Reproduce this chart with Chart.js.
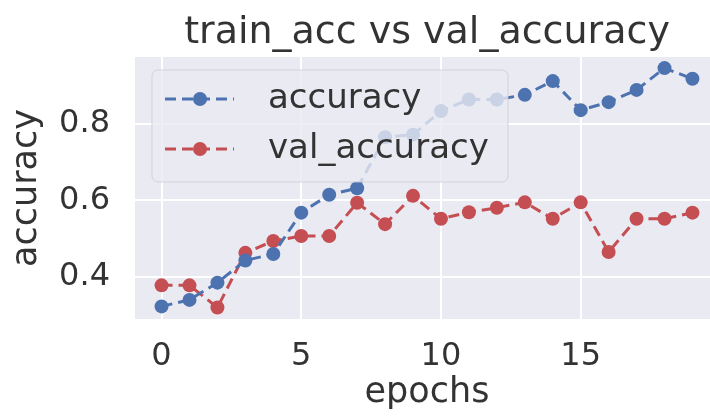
<!DOCTYPE html>
<html>
<head>
<meta charset="utf-8">
<script src="https://cdn.jsdelivr.net/npm/chart.js@4.4.1/dist/chart.umd.min.js"></script>
<style>
  html, body { margin: 0; padding: 0; background: #fff; overflow: hidden; }
  #wrap { width: 730px; height: 420px; }
</style>
</head>
<body>
<div id="wrap"><canvas id="myChart"></canvas></div>
<script>
const epochs = [0, 1, 2, 3, 4, 5, 6, 7, 8, 9, 10, 11, 12, 13, 14, 15, 16, 17, 18, 19];
const accuracy = [0.323, 0.340, 0.385, 0.443, 0.460, 0.568, 0.615, 0.632, 0.765, 0.772,
                  0.834, 0.864, 0.864, 0.876, 0.912, 0.836, 0.857, 0.889, 0.946, 0.918];
const valAccuracy = [0.378, 0.378, 0.320, 0.463, 0.494, 0.507, 0.507, 0.594, 0.538, 0.612,
                     0.552, 0.569, 0.581, 0.595, 0.552, 0.595, 0.465, 0.552, 0.552, 0.568];
const seriesNames = ["accuracy", "val_accuracy"];
const titleText = "train_acc vs val_accuracy";

const blue = "#4C72B0";
const red = "#C44E52";
const textColor = "#333333";
const fontFamily = "'DejaVu Sans', sans-serif";

// seaborn-ish grey panel behind the lines
const panelBg = {
  id: "panelBg",
  beforeDraw(chart) {
    const {ctx, chartArea: a} = chart;
    ctx.save();
    ctx.fillStyle = "#EAEAF2";
    ctx.fillRect(a.left, a.top, a.right - a.left, a.bottom - a.top);
    ctx.restore();
  }
};

// title centred over the axes like matplotlib does
const axesTitle = {
  id: "axesTitle",
  afterDraw(chart) {
    const {ctx, chartArea: a} = chart;
    ctx.save();
    ctx.font = "38px " + fontFamily;
    ctx.fillStyle = textColor;
    ctx.textAlign = "center";
    ctx.textBaseline = "alphabetic";
    ctx.fillText(titleText, (a.left + a.right) / 2, 43);
    ctx.restore();
  }
};

// legend box inside the axes, drawn over the data
const innerLegend = {
  id: "innerLegend",
  afterDatasetsDraw(chart) {
    const {ctx} = chart;
    ctx.save();
    ctx.beginPath();
    ctx.roundRect(152, 70, 356, 112, 6);
    ctx.fillStyle = "rgba(234,234,242,0.8)";
    ctx.fill();
    ctx.strokeStyle = "rgba(204,204,204,0.8)";
    ctx.lineWidth = 1;
    ctx.stroke();
    chart.data.datasets.forEach((ds, i) => {
      const y = 99 + i * 50;
      ctx.strokeStyle = ds.borderColor;
      ctx.lineWidth = 3;
      ctx.setLineDash([11, 6]);
      ctx.beginPath();
      ctx.moveTo(165, y);
      ctx.lineTo(234, y);
      ctx.stroke();
      ctx.setLineDash([]);
      ctx.fillStyle = ds.borderColor;
      ctx.beginPath();
      ctx.arc(200, y, 7, 0, Math.PI * 2);
      ctx.fill();
      ctx.fillStyle = textColor;
      ctx.font = "34px " + fontFamily;
      ctx.textAlign = "left";
      ctx.textBaseline = "middle";
      ctx.fillText(ds.label, 268, y);
    });
    ctx.restore();
  }
};

function toPoints(values) {
  return epochs.map((e, i) => ({x: e, y: values[i]}));
}

new Chart("myChart", {
  type: "line",
  data: {
    datasets: [{
      label: seriesNames[0],
      data: toPoints(accuracy),
      borderColor: blue,
      backgroundColor: blue,
      pointBackgroundColor: blue,
      borderWidth: 3,
      borderDash: [11, 6],
      pointRadius: 7,
      pointBorderWidth: 0,
      tension: 0,
      fill: false
    }, {
      label: seriesNames[1],
      data: toPoints(valAccuracy),
      borderColor: red,
      backgroundColor: red,
      pointBackgroundColor: red,
      borderWidth: 3,
      borderDash: [11, 6],
      pointRadius: 7,
      pointBorderWidth: 0,
      tension: 0,
      fill: false
    }]
  },
  options: {
    responsive: true,
    maintainAspectRatio: false,
    animation: false,
    events: [],
    layout: {padding: {top: 57, left: 0, right: 11, bottom: 0}},
    plugins: {
      legend: {display: false},
      title: {display: false},
      tooltip: {enabled: false}
    },
    scales: {
      x: {
        type: "linear",
        min: -0.95,
        max: 19.95,
        afterFit(scale) { scale.height = 101; },
        grid: {color: "#ffffff", lineWidth: 2, drawTicks: false},
        border: {display: false},
        ticks: {
          stepSize: 5,
          includeBounds: false,
          padding: 18,
          color: textColor,
          font: {family: fontFamily, size: 32}
        },
        title: {
          display: true,
          text: "epochs",
          color: textColor,
          font: {family: fontFamily, size: 35},
          padding: {top: 0, bottom: 6}
        }
      },
      y: {
        min: 0.29,
        max: 0.975,
        afterFit(scale) { scale.width = 135; },
        grid: {color: "#ffffff", lineWidth: 2, drawTicks: false},
        border: {display: false},
        ticks: {
          stepSize: 0.2,
          includeBounds: false,
          padding: 25,
          color: textColor,
          font: {family: fontFamily, size: 32}
        },
        title: {
          display: true,
          text: "accuracy",
          color: textColor,
          font: {family: fontFamily, size: 35},
          padding: {top: 6, bottom: 0}
        }
      }
    }
  },
  plugins: [panelBg, axesTitle, innerLegend]
});
</script>
</body>
</html>
